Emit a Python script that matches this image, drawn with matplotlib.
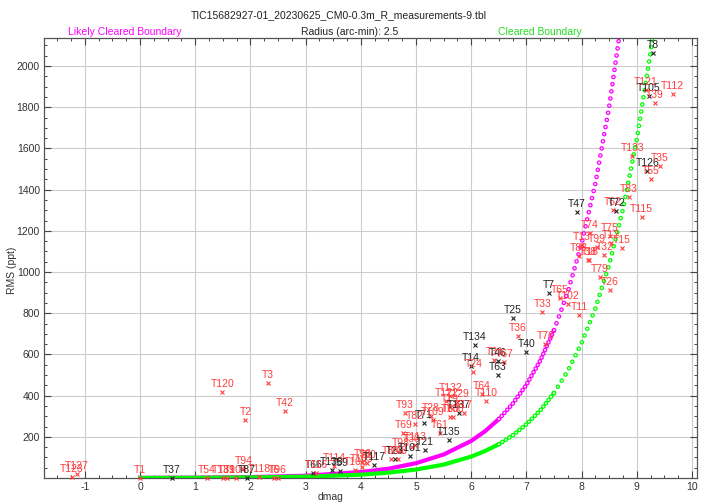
import numpy as np
import matplotlib
matplotlib.use("Agg")
import matplotlib.pyplot as plt
from matplotlib.ticker import MultipleLocator, FixedLocator

plt.rcParams["font.family"] = ["Liberation Sans", "DejaVu Sans"]
plt.rcParams["axes.unicode_minus"] = False
plt.rcParams["lines.scale_dashes"] = False

TITLE = "TIC15682927-01_20230625_CM0-0.3m_R_measurements-9.tbl"
RADIUS_TEXT = "Radius (arc-min): 2.5"

# boundary curves
BOUND_DMAG = [0, 1, 2, 3, 4, 4.5, 5, 5.5, 6, 6.25, 6.5, 6.75, 7, 7.25, 7.5,
              7.75, 8, 8.25, 8.5, 8.75, 9, 9.25, 9.5]
LIKELY_RMS = [0.7, 1.8, 4.5, 11, 29, 45, 72, 114, 180, 227, 286, 360, 453, 570,
              718, 904, 1138, 1432, 1804, 2270, 2858, 3599, 4531]
CLEARED_RMS = [0.4, 1.0, 2.6, 6.5, 16, 26, 41, 65, 104, 131, 164, 207, 261, 328,
               413, 520, 655, 824, 1037, 1306, 1644, 2070, 2606]

# neighbour stars
STAR_LABELS = [
    "T127", "T123", "T1", "T37", "T54", "T131", "T89", "T104", "T94", "T87",
    "T118", "T6", "T96", "T120", "T2", "T3", "T42", "T66", "T116", "T138",
    "T114", "T59", "T108", "T103", "T90", "T80", "T117", "T85", "T23", "T48",
    "T98", "T69", "T93", "T101", "T30", "T113", "T82", "T71", "T21", "T28",
    "T109", "T61", "T135", "T122", "T132", "T19", "T60", "T100", "T129", "T137",
    "T17", "T14", "T24", "T134", "T64", "T110", "T31", "T46", "T63", "T67",
    "T25", "T36", "T40", "T33", "T76", "T7", "T65", "T102", "T47", "T88",
    "T11", "T13", "T38", "T18", "T74", "T99", "T79", "T32", "T75", "T26",
    "T12", "T62", "T72", "T15", "T83", "T133", "T115", "T121", "T126", "T105",
    "T55", "T8", "T39", "T35", "T112",
]
STAR_DMAG = [
    -1.15, -1.24, 0.00, 0.57, 1.21, 1.51, 1.58, 1.74, 1.87, 1.93,
    2.16, 2.42, 2.50, 1.49, 1.91, 2.32, 2.63, 3.14, 3.19, 3.48,
    3.52, 3.62, 3.90, 4.02, 4.03, 4.12, 4.24, 4.54, 4.62, 4.68,
    4.73, 4.77, 4.80, 4.89, 4.93, 4.98, 4.98, 5.14, 5.16, 5.27,
    5.30, 5.43, 5.59, 5.55, 5.62, 5.62, 5.62, 5.67, 5.75, 5.78,
    5.86, 5.99, 6.04, 6.06, 6.19, 6.27, 6.42, 6.48, 6.48, 6.60,
    6.76, 6.84, 7.00, 7.29, 7.34, 7.41, 7.61, 7.75, 7.91, 7.95,
    7.96, 8.00, 8.11, 8.14, 8.15, 8.27, 8.33, 8.41, 8.51, 8.51,
    8.53, 8.57, 8.63, 8.73, 8.85, 8.92, 9.09, 9.17, 9.19, 9.22,
    9.26, 9.29, 9.33, 9.42, 9.65,
]
STAR_RMS = [
    20, 3, 0, 0, 0, 2, 2, 2, 45, 2,
    3, 2, 2, 417, 283, 460, 327, 22, 22, 40,
    60, 33, 39, 55, 80, 75, 63, 92, 91, 91,
    130, 217, 314, 107, 150, 160, 262, 268, 136, 300,
    283, 220, 184, 374, 400, 345, 298, 298, 370, 317,
    317, 544, 513, 646, 410, 375, 573, 568, 500, 565,
    778, 689, 613, 807, 649, 897, 872, 843, 1293, 1078,
    791, 1131, 1058, 1058, 1191, 1123, 974, 1083, 1175, 913,
    1142, 1301, 1298, 1115, 1366, 1563, 1268, 1883, 1492, 1854,
    1450, 2065, 1819, 1515, 1864,
]
# stars drawn in black, the rest are red
BLACK_STARS = ["T37", "T87", "T66", "T138", "T59", "T117", "T23", "T101", "T71",
               "T21", "T135", "T137", "T14", "T134", "T46", "T63", "T25", "T40",
               "T7", "T47", "T72", "T126", "T105", "T8"]

RED = "#ff3c3c"
BLACK = "#222222"
MAGENTA = "#ff00ff"
GREEN = "#00ff00"


def draw_boundary(ax, dmag, rms, color):
    dmag = np.asarray(dmag, dtype=float)
    rms = np.asarray(rms, dtype=float)
    # flat part: circles overlap into a solid band
    dense = dmag <= 6.5
    ax.plot(dmag[dense], rms[dense], color=color, lw=3.0, zorder=2)
    # steep part: chain of open circles
    for lo, hi, gap in [(6.5, 7.5, 3.0), (7.5, 99, 5.2)]:
        seg = (dmag >= lo) & (dmag <= hi)
        for lw, c in [(3.4, color), (1.5, "white")]:
            ax.plot(dmag[seg], rms[seg], color=c, lw=lw,
                    linestyle=(0, (0.01, gap)), dash_capstyle="round", zorder=2)


def main():
    fig = plt.figure(figsize=(7.01, 5.04), dpi=100)
    ax = fig.add_axes([44 / 701, 26 / 504, 653 / 701, 440 / 504])

    ax.set_xlim(-1.74, 10.09)
    ax.set_ylim(0, 2136)

    ax.grid(True, which="major", color="#cccccc", lw=0.8, zorder=0)
    ax.set_axisbelow(True)

    draw_boundary(ax, BOUND_DMAG, LIKELY_RMS, MAGENTA)
    draw_boundary(ax, BOUND_DMAG, CLEARED_RMS, GREEN)

    for lab, x, y in zip(STAR_LABELS, STAR_DMAG, STAR_RMS):
        c = BLACK if lab in BLACK_STARS else RED
        ax.plot(x, y, marker="x", ms=3.4, mew=0.8, color=c, ls="none",
                zorder=4, clip_on=False)
        ax.annotate(lab, (x, y), xytext=(0, 3.6), textcoords="offset points",
                    ha="center", va="baseline", fontsize=7.5, color=c,
                    zorder=5, annotation_clip=False)

    ax.xaxis.set_major_locator(MultipleLocator(1))
    ax.xaxis.set_minor_locator(MultipleLocator(0.25))
    ax.yaxis.set_major_locator(FixedLocator(list(range(200, 2001, 200))))
    ax.yaxis.set_minor_locator(MultipleLocator(50))
    ax.tick_params(which="both", direction="in", top=True, right=True,
                   colors="#444444", labelcolor="#333333", labelsize=7.5)
    ax.tick_params(which="major", length=5, width=0.8, pad=3)
    ax.tick_params(which="minor", length=2.5, width=0.7)
    for sp in ax.spines.values():
        sp.set_color("#555555")
        sp.set_linewidth(0.9)

    # axis titles
    fig.text(331 / 701, 1 - 497 / 504, "dmag", ha="center", va="center",
             fontsize=7.5, color="#333333")
    fig.text(12 / 701, 1 - 270 / 504, "RMS (ppt)", ha="center", va="center",
             rotation=90, fontsize=7.5, color="#333333")

    fig.text(339 / 701, 1 - 15 / 504, TITLE, ha="center", va="center",
             fontsize=7.5, color="#222222")
    fig.text(125 / 701, 1 - 32 / 504, "Likely Cleared Boundary", ha="center",
             va="center", fontsize=7.5, color=MAGENTA)
    fig.text(350 / 701, 1 - 32 / 504, RADIUS_TEXT, ha="center", va="center",
             fontsize=7.5, color="#222222")
    fig.text(540 / 701, 1 - 32 / 504, "Cleared Boundary", ha="center",
             va="center", fontsize=7.5, color="#22dd22")

    fig.savefig("out.png", dpi=100)
    plt.close(fig)


if __name__ == "__main__":
    main()
